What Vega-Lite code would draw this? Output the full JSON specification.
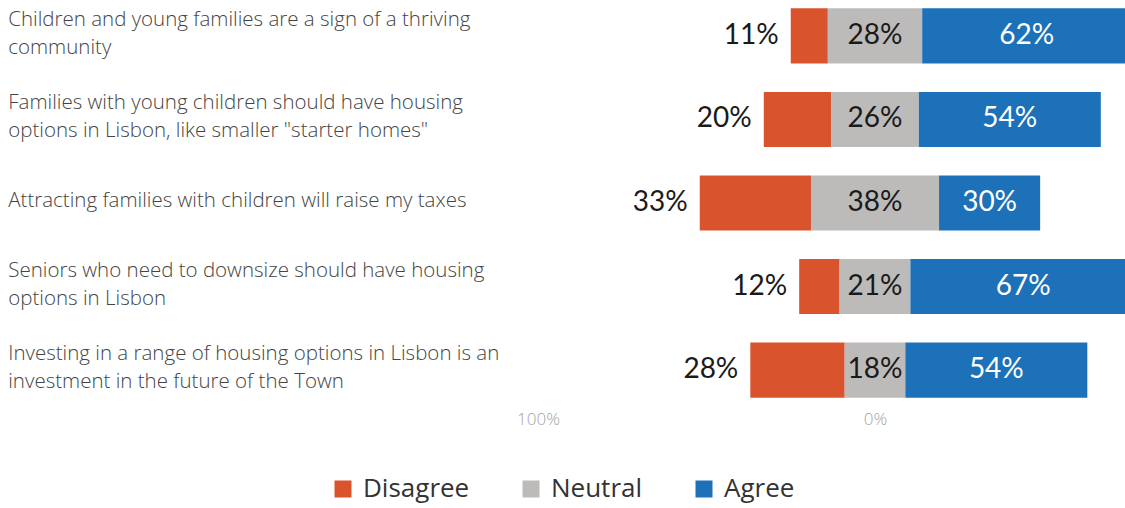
{
  "$schema": "https://vega.github.io/schema/vega-lite/v6.json",
  "width": 1125,
  "height": 406,
  "padding": {"left": 0, "top": 0, "right": 0, "bottom": 6},
  "autosize": {"type": "pad"},
  "background": "white",
  "config": {"view": {"stroke": null}, "legend": {"layout": {"bottom": {"anchor": "middle"}}}},
  "data": {
    "values": [
      {"statement": "Children and young families are a sign of a thriving\ncommunity", "Disagree": 0.11, "Neutral": 0.28, "Agree": 0.62},
      {"statement": "Families with young children should have housing\noptions in Lisbon, like smaller \"starter homes\"", "Disagree": 0.20, "Neutral": 0.26, "Agree": 0.54},
      {"statement": "Attracting families with children will raise my taxes", "Disagree": 0.33, "Neutral": 0.38, "Agree": 0.30},
      {"statement": "Seniors who need to downsize should have housing\noptions in Lisbon", "Disagree": 0.12, "Neutral": 0.21, "Agree": 0.67},
      {"statement": "Investing in a range of housing options in Lisbon is an\ninvestment in the future of the Town", "Disagree": 0.28, "Neutral": 0.18, "Agree": 0.54}
    ]
  },
  "transform": [
    {"fold": ["Disagree", "Neutral", "Agree"], "as": ["response", "pct"]},
    {"calculate": "datum.response === 'Disagree' ? -datum.Neutral / 2 - datum.Disagree : (datum.response === 'Neutral' ? -datum.Neutral / 2 : datum.Neutral / 2)", "as": "start"},
    {"calculate": "datum.start + datum.pct", "as": "end"},
    {"calculate": "(datum.start + datum.end) / 2", "as": "mid"}
  ],
  "encoding": {
    "y": {
      "field": "statement",
      "type": "nominal",
      "sort": null,
      "axis": null,
      "scale": {"paddingInner": 0.34, "paddingOuter": 0.1}
    }
  },
  "layer": [
    {
      "mark": {"type": "bar", "clip": true},
      "encoding": {
        "x": {
          "field": "start",
          "type": "quantitative",
          "scale": {"domain": [-2.5964, 0.7418], "nice": false, "zero": false},
          "axis": {
            "values": [-1, 0],
            "labelExpr": "format(abs(datum.value), '.0%')",
            "domain": false,
            "ticks": false,
            "grid": false,
            "labelColor": "#a3a3a3",
            "labelFontSize": 17,
            "labelFontWeight": 300,
            "labelFont": "Open Sans",
            "labelPadding": 5,
            "title": null
          }
        },
        "x2": {"field": "end"},
        "color": {
          "field": "response",
          "type": "nominal",
          "scale": {"domain": ["Disagree", "Neutral", "Agree"], "range": ["#D9542C", "#BDBABA", "#1C71B8"]},
          "legend": {
            "orient": "bottom",
            "direction": "horizontal",
            "offset": 49,
            "title": null,
            "symbolType": "square",
            "symbolSize": 289,
            "symbolStrokeWidth": 0,
            "labelFontSize": 26,
            "labelFont": "Open Sans",
            "labelColor": "#333333",
            "columnPadding": 48,
            "labelOffset": 7
          }
        }
      }
    },
    {
      "transform": [{"filter": "datum.response === 'Disagree'"}],
      "mark": {"type": "text", "align": "right", "dx": -12, "baseline": "middle", "fontSize": 28, "font": "Lato", "color": "#1a1a1a"},
      "encoding": {
        "x": {"field": "start", "type": "quantitative"},
        "text": {"field": "pct", "type": "quantitative", "format": ".0%"}
      }
    },
    {
      "transform": [{"filter": "datum.response !== 'Disagree'"}],
      "mark": {"type": "text", "align": "center", "baseline": "middle", "fontSize": 28, "font": "Lato"},
      "encoding": {
        "x": {"field": "mid", "type": "quantitative"},
        "text": {"field": "pct", "type": "quantitative", "format": ".0%"},
        "color": {"condition": {"test": "datum.response === 'Agree'", "value": "#ffffff"}, "value": "#1a1a1a"}
      }
    },
    {
      "transform": [{"filter": "datum.response === 'Agree' && indexof(datum.statement, '\\n') >= 0"}],
      "mark": {"type": "text", "align": "left", "baseline": "middle", "dy": -16, "fontSize": 20.5, "fontWeight": 300, "font": "Open Sans", "color": "#444444", "lineBreak": "\n", "lineHeight": 28},
      "encoding": {
        "x": {"datum": -2.572},
        "text": {"field": "statement", "type": "nominal"}
      }
    },
    {
      "transform": [{"filter": "datum.response === 'Agree' && indexof(datum.statement, '\\n') < 0"}],
      "mark": {"type": "text", "align": "left", "baseline": "middle", "dy": -2, "fontSize": 20.5, "fontWeight": 300, "font": "Open Sans", "color": "#444444"},
      "encoding": {
        "x": {"datum": -2.572},
        "text": {"field": "statement", "type": "nominal"}
      }
    }
  ]
}
